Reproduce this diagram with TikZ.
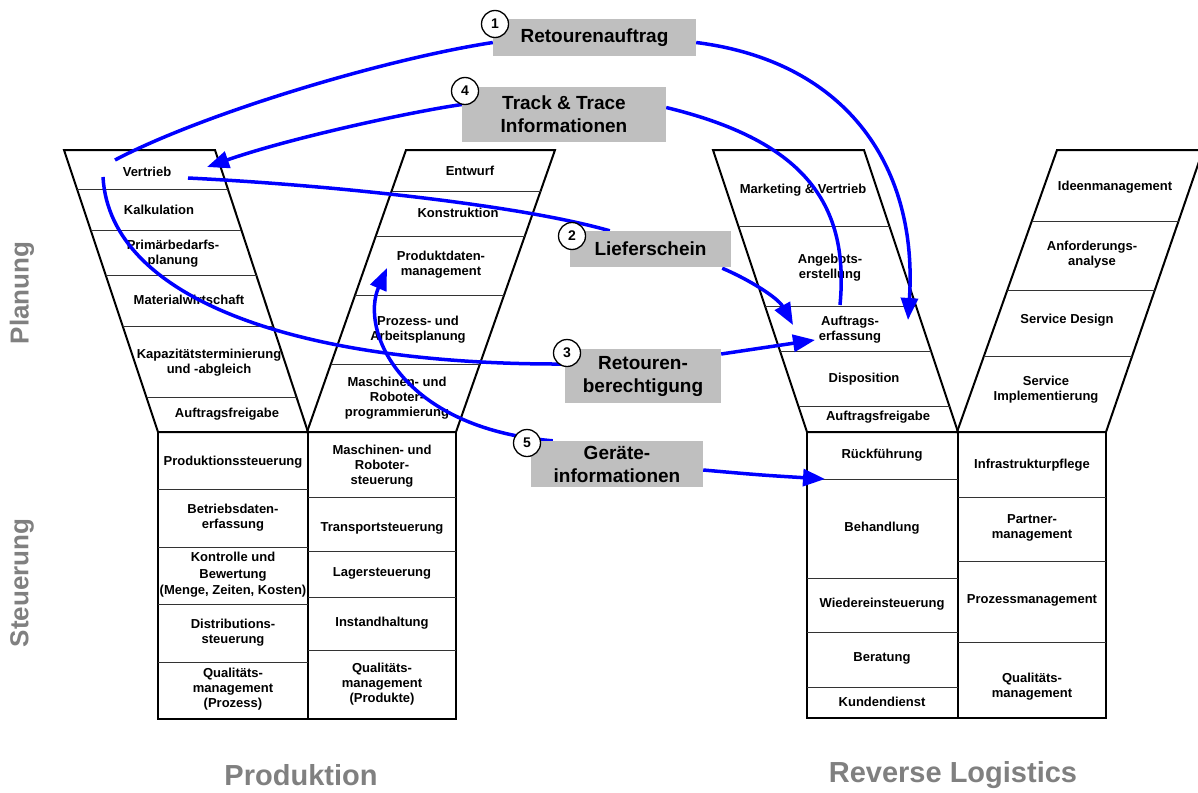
\documentclass[tikz,border=0pt]{standalone}
\usepackage{fontspec}
\setmainfont{Liberation Sans}
\usetikzlibrary{arrows.meta,calc}
\begin{document}
\begin{tikzpicture}[x=1pt,y=-1pt,
  cell/.style={font=\fontsize{13}{15}\selectfont\bfseries, align=center, inner sep=0pt},
  outline/.style={line width=2pt, line join=miter},
  divider/.style={line width=1pt, black!80},
  flow/.style={line width=3.5pt, blue},
  tip/.style={-{Triangle[length=22pt,width=17pt]}},
  labelbox/.style={fill=black!25, draw=none, font=\fontsize{19}{23}\selectfont\bfseries, align=center, inner sep=0pt},
  numcirc/.style={circle, draw=black, line width=1.3pt, fill=white, minimum size=27pt, inner sep=0pt, font=\fontsize{14}{14}\selectfont\bfseries},
  side/.style={font=\fontsize{26}{26}\selectfont\bfseries, text=black!50, inner sep=0pt},
  bottomlabel/.style={font=\fontsize{29}{29}\selectfont\bfseries, text=black!50, inner sep=0pt}
]
\useasboundingbox (0,0) rectangle (1198,792);
\fill[white] (0,0) rectangle (1198,792);

% ---------- Produktion: left parallelogram ----------
\draw[outline] (64,150) -- (215,150) -- (308,432) -- (158,432) -- cycle;
\foreach \t in {0.1418,0.2837,0.4468,0.6241,0.8794}
  \draw[divider] ($(64,150)!\t!(158,432)$) -- ($(215,150)!\t!(308,432)$);
\node[cell] (pa1) at (147,172) {Vertrieb};
\node[cell] (pa2) at (159,210) {Kalkulation};
\node[cell] (pa3) at (173,254) {Primärbedarfs-\\planung};
\node[cell] (pa4) at (189,300) {Materialwirtschaft};
\node[cell] (pa5) at (209,363) {Kapazitätsterminierung\\und -abgleich};
\node[cell] (pa6) at (227,414) {Auftragsfreigabe};

% ---------- Produktion: right parallelogram ----------
\draw[outline] (406,150) -- (555,150) -- (456,432) -- (307,432) -- cycle;
\foreach \t in {0.1454,0.3050,0.5142,0.7589}
  \draw[divider] ($(406,150)!\t!(307,432)$) -- ($(555,150)!\t!(456,432)$);
\node[cell] (pb1) at (470,171) {Entwurf};
\node[cell] (pb2) at (458,213) {Konstruktion};
\node[cell] (pb3) at (441,265) {Produktdaten-\\management};
\node[cell] (pb4) at (418,330) {Prozess- und\\Arbeitsplanung};
\node[cell] (pb5) at (397,398) {Maschinen- und\\Roboter-\\programmierung};

% ---------- Produktion: Steuerung boxes ----------
\draw[outline] (158,432) rectangle (456,719);
\draw[outline] (308,432) -- (308,719);
\foreach \y in {489,547,604,662} \draw[divider] (158,\y) -- (308,\y);
\foreach \y in {497,551,597,650} \draw[divider] (308,\y) -- (456,\y);
\node[cell] (pc1) at (233,462) {Produktionssteuerung};
\node[cell] (pc2) at (233,518) {Betriebsdaten-\\erfassung};
\node[cell, font=\fontsize{13}{16.5}\selectfont\bfseries] (pc3) at (233,575) {Kontrolle und\\Bewertung\\(Menge, Zeiten, Kosten)};
\node[cell] (pc4) at (233,633) {Distributions-\\steuerung};
\node[cell] (pc5) at (233,689) {Qualitäts-\\management\\(Prozess)};
\node[cell] (pd1) at (382,466) {Maschinen- und\\Roboter-\\steuerung};
\node[cell] (pd2) at (382,528) {Transportsteuerung};
\node[cell] (pd3) at (382,573) {Lagersteuerung};
\node[cell] (pd4) at (382,623) {Instandhaltung};
\node[cell] (pd5) at (382,684) {Qualitäts-\\management\\(Produkte)};

% ---------- Reverse Logistics: left parallelogram ----------
\draw[outline] (713,150) -- (864,150) -- (958,432) -- (807,432) -- cycle;
\foreach \t in {0.2730,0.5567,0.7163,0.9113}
  \draw[divider] ($(713,150)!\t!(807,432)$) -- ($(864,150)!\t!(958,432)$);
\node[cell] (ra1) at (803,190) {Marketing \& Vertrieb};
\node[cell] (ra2) at (830,268) {Angebots-\\erstellung};
\node[cell] (ra3) at (850,330) {Auftrags-\\erfassung};
\node[cell] (ra4) at (864,379) {Disposition};
\node[cell] (ra5) at (878,417) {Auftragsfreigabe};

% ---------- Reverse Logistics: right parallelogram ----------
\draw[outline] (1057,150) -- (1203,150) -- (1106,432) -- (957,432) -- cycle;
\foreach \t in {0.2518,0.4965,0.7340}
  \draw[divider] ($(1057,150)!\t!(957,432)$) -- ($(1203,150)!\t!(1106,432)$);
\node[cell] (rb1) at (1115,187) {Ideenmanagement};
\node[cell] (rb2) at (1092,255) {Anforderungs-\\analyse};
\node[cell] (rb3) at (1067,320) {Service Design};
\node[cell] (rb4) at (1046,390) {Service\\Implementierung};

% ---------- Reverse Logistics: boxes ----------
\draw[outline] (807,432) rectangle (1106,718);
\draw[outline] (958,432) -- (958,718);
\foreach \y in {479,578,632,687} \draw[divider] (807,\y) -- (958,\y);
\foreach \y in {497,561,642} \draw[divider] (958,\y) -- (1106,\y);
\node[cell] (rc1) at (882,455) {Rückführung};
\node[cell] (rc2) at (882,528) {Behandlung};
\node[cell] (rc3) at (882,604) {Wiedereinsteuerung};
\node[cell] (rc4) at (882,658) {Beratung};
\node[cell] (rc5) at (882,702) {Kundendienst};
\node[cell] (rd1) at (1032,465) {Infrastrukturpflege};
\node[cell] (rd2) at (1032,528) {Partner-\\management};
\node[cell] (rd3) at (1032,600) {Prozessmanagement};
\node[cell] (rd4) at (1032,687) {Qualitäts-\\management};

% ---------- side and bottom labels ----------
\node[side, rotate=90] (planung) at (22,293) {Planung};
\node[side, rotate=90] (steuerung) at (22,583) {Steuerung};
\node[bottomlabel] (prod) at (301,775) {Produktion};
\node[bottomlabel] (revlog) at (953,775) {Reverse Logistics};

% ---------- label boxes (positions) ----------
\path node[labelbox, minimum width=203pt, minimum height=37pt] (lab1) at (594.5,37.5) {};
\path node[labelbox, minimum width=204pt, minimum height=55pt] (lab4) at (564,114.5) {};
\path node[labelbox, minimum width=161pt, minimum height=36pt] (lab2) at (650.5,249) {};
\path node[labelbox, minimum width=156pt, minimum height=54pt] (lab3) at (643,376) {};
\path node[labelbox, minimum width=172pt, minimum height=46pt] (lab5) at (617,464) {};

% ---------- endpoints ----------
\coordinate (s1) at (115,160);
\coordinate (t1) at (908,320);
\coordinate (e4) at (840,305);
\coordinate (t4) at (207,167);
\coordinate (s2) at (188,178);
\coordinate (t2) at (793,325);
\coordinate (s3) at (103,177);
\coordinate (t3) at (815,340);
\coordinate (t5a) at (387,268);
\coordinate (t5b) at (825,479);

% ---------- flows ----------
% 1 Retourenauftrag
\draw[flow] (s1) .. controls (200,115) and (380,60) .. ($(lab1.west)+(0,5)$);
\draw[flow, tip] ($(lab1.east)+(0,5)$) .. controls (850,62) and (918,170) .. (t1);
% 4 Track & Trace
\draw[flow] (e4) .. controls (850,200) and (800,140) .. ($(lab4.east)+(0,-7)$);
\draw[flow, tip] ($(lab4.west)+(0,-10)$) .. controls (410,112) and (290,138) .. (t4);
% 2 Lieferschein
\draw[flow] (s2) .. controls (330,185) and (520,205) .. ($(lab2.north west)+(40,0)$);
\draw[flow, tip] ($(lab2.south east)+(-9,1)$) .. controls (750,280) and (778,298) .. (t2);
% 3 Retourenberechtigung
\draw[flow] (s3) .. controls (110,300) and (300,365) .. ($(lab3.west)+(0,-12)$);
\draw[flow, tip] ($(lab3.east)+(0,-22)$) -- (t3);
% 5 Geraeteinformationen
\draw[flow, tip] ($(lab5.north west)+(22,0)$) .. controls (400,428) and (360,330) .. (t5a);
\draw[flow, tip] ($(lab5.east)+(0,6)$) .. controls (760,475) .. (t5b);

% ---------- label boxes (drawn on top) ----------
\node[labelbox, minimum width=203pt, minimum height=37pt] (lab1b) at (lab1) {Retourenauftrag};
\node[labelbox, minimum width=204pt, minimum height=55pt] (lab4b) at (lab4) {Track \& Trace\\Informationen};
\node[labelbox, minimum width=161pt, minimum height=36pt] (lab2b) at (lab2) {Lieferschein};
\node[labelbox, minimum width=156pt, minimum height=54pt] (lab3b) at (lab3) {Retouren-\\berechtigung};
\node[labelbox, minimum width=172pt, minimum height=46pt] (lab5b) at (lab5) {Geräte-\\informationen};

\node[numcirc] (n1) at (495,24) {1};
\node[numcirc] (n4) at (465,91) {4};
\node[numcirc] (n2) at (572,236) {2};
\node[numcirc] (n3) at (567,353) {3};
\node[numcirc] (n5) at (527,443) {5};
\end{tikzpicture}
\end{document}
